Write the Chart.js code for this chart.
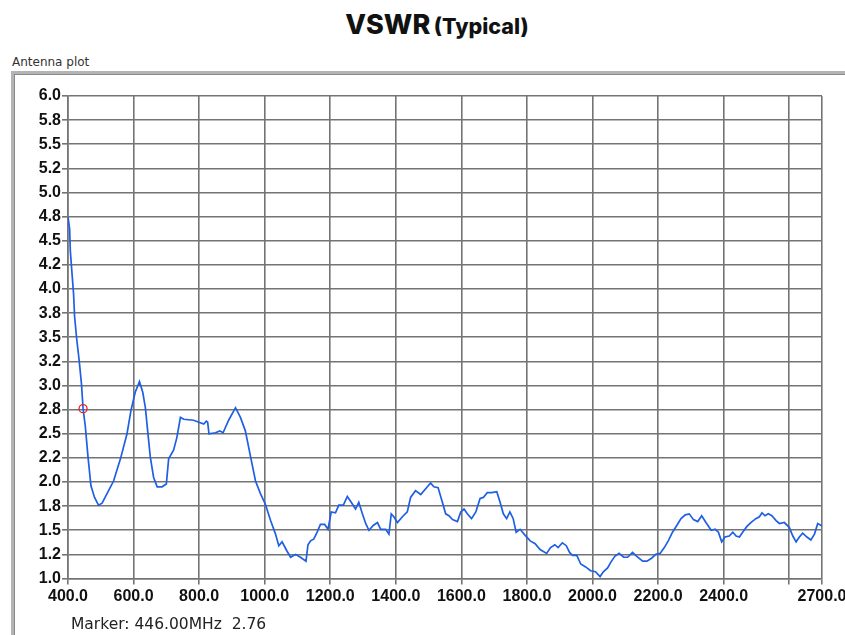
<!DOCTYPE html>
<html>
<head>
<meta charset="utf-8">
<title>VSWR (Typical)</title>
<script src="https://cdn.jsdelivr.net/npm/chart.js"></script>
<style>
  html, body { margin: 0; padding: 0; background: #fff; overflow: hidden; }
  body { width: 845px; height: 635px; position: relative; }
  #title { position: absolute; left: 0; width: 874px; top: 8px; text-align: center;
           font-family: Inter, "Open Sans", sans-serif; font-weight: 800; color: #111; }
  #title .big { font-size: 27px; }
  #title .small { font-size: 21.5px; }
  #caption { position: absolute; left: 12px; top: 55px; font: 12px "DejaVu Sans", sans-serif; color: #333; }
  #frame { position: absolute; left: 11px; top: 71px; width: 900px; height: 700px;
           border-left: 3px solid #b4b4b4; border-top: 3px solid #b4b4b4;
           box-shadow: inset 1px 1px 0 #8a8a8a; }
  #marker { position: absolute; left: 71px; top: 615px; font: 15.5px "DejaVu Sans", sans-serif; color: #222; white-space: pre; }
  #plot { position: absolute; left: 0; top: 0; }
</style>
</head>
<body>
<div id="title"><span class="big">VSWR</span> <span class="small">(Typical)</span></div>
<div id="caption">Antenna plot</div>
<div id="frame"></div>
<canvas id="plot" width="845" height="635"></canvas>
<div id="marker"></div>
<script>
// trace (MHz / VSWR)
const freqMHz = [
  400, 405, 407, 412, 417, 420, 426, 434, 441, 446, 453, 461, 470, 481, 493, 504, 519, 539, 560, 580,
  592, 605, 618, 628, 636, 643, 651, 661, 672, 687, 700, 707, 722, 732, 743, 753, 783, 814, 822, 826,
  830, 850, 863, 873, 890, 911, 926, 941, 957, 972, 987, 1002, 1018, 1033, 1043, 1053, 1067, 1079, 1094, 1109,
  1126, 1132, 1140, 1150, 1160, 1170, 1183, 1193, 1203, 1216, 1226, 1240, 1252, 1264, 1277, 1287, 1298, 1308, 1318, 1331,
  1344, 1354, 1369, 1379, 1386, 1394, 1405, 1420, 1435, 1445, 1460, 1476, 1491, 1506, 1516, 1529, 1542, 1552, 1562, 1573,
  1588, 1598, 1608, 1618, 1631, 1644, 1657, 1667, 1679, 1693, 1708, 1718, 1728, 1738, 1748, 1758, 1767, 1779, 1794, 1810,
  1825, 1840, 1860, 1872, 1885, 1895, 1908, 1920, 1930, 1939, 1952, 1964, 1979, 1994, 2009, 2023, 2033, 2046, 2056, 2068,
  2081, 2095, 2107, 2122, 2135, 2153, 2166, 2180, 2193, 2206, 2219, 2231, 2244, 2257, 2270, 2283, 2295, 2308, 2321, 2333,
  2346, 2362, 2374, 2384, 2394, 2404, 2417, 2428, 2438, 2448, 2458, 2471, 2483, 2498, 2509, 2517, 2526, 2536, 2547, 2560,
  2570, 2585, 2600, 2611, 2621, 2631, 2641, 2654, 2666, 2677, 2687, 2697, 2700
];
const vswr = [
  4.75, 4.62, 4.40, 4.17, 3.95, 3.72, 3.50, 3.26, 3.02, 2.76, 2.57, 2.26, 1.96, 1.84, 1.76, 1.78, 1.88, 2.01, 2.24, 2.50,
  2.74, 2.93, 3.04, 2.93, 2.77, 2.53, 2.26, 2.05, 1.95, 1.95, 1.98, 2.24, 2.33, 2.46, 2.67, 2.65, 2.64, 2.60, 2.63, 2.62,
  2.50, 2.51, 2.53, 2.51, 2.64, 2.77, 2.67, 2.53, 2.26, 2.01, 1.88, 1.77, 1.60, 1.46, 1.34, 1.38, 1.29, 1.22, 1.25, 1.22,
  1.18, 1.35, 1.39, 1.41, 1.48, 1.56, 1.56, 1.51, 1.69, 1.68, 1.76, 1.76, 1.85, 1.79, 1.72, 1.79, 1.67, 1.57, 1.50, 1.55,
  1.58, 1.51, 1.51, 1.46, 1.67, 1.64, 1.58, 1.64, 1.69, 1.84, 1.91, 1.87, 1.93, 1.99, 1.95, 1.94, 1.79, 1.67, 1.65, 1.61,
  1.59, 1.69, 1.72, 1.67, 1.62, 1.69, 1.83, 1.84, 1.89, 1.89, 1.90, 1.79, 1.67, 1.62, 1.69, 1.62, 1.48, 1.51, 1.45, 1.39,
  1.36, 1.30, 1.26, 1.32, 1.35, 1.32, 1.37, 1.34, 1.27, 1.24, 1.24, 1.15, 1.12, 1.08, 1.07, 1.02, 1.07, 1.11, 1.17, 1.23,
  1.26, 1.22, 1.22, 1.27, 1.23, 1.18, 1.18, 1.21, 1.25, 1.26, 1.32, 1.39, 1.48, 1.55, 1.62, 1.66, 1.67, 1.61, 1.59, 1.65,
  1.58, 1.50, 1.51, 1.48, 1.38, 1.43, 1.44, 1.48, 1.44, 1.43, 1.48, 1.54, 1.58, 1.62, 1.64, 1.68, 1.65, 1.67, 1.65, 1.60,
  1.57, 1.58, 1.53, 1.44, 1.38, 1.43, 1.47, 1.43, 1.40, 1.46, 1.57, 1.55, 1.55
];
const markerFreq = [446];
const markerVswr = [2.76];

const xTicks = [400, 600, 800, 1000, 1200, 1400, 1600, 1800, 2000, 2200, 2400, 2600, 2700];
const xTickLabels = ['400.0', '600.0', '800.0', '1000.0', '1200.0', '1400.0', '1600.0', '1800.0',
  '2000.0', '2200.0', '2400.0', '', '2700.0'];
const yTicks = [1.0, 1.25, 1.5, 1.75, 2.0, 2.25, 2.5, 2.75, 3.0, 3.25, 3.5, 3.75, 4.0,
  4.25, 4.5, 4.75, 5.0, 5.25, 5.5, 5.75, 6.0];
const yTickLabels = ['1.0', '1.2', '1.5', '1.8', '2.0', '2.2', '2.5', '2.8', '3.0', '3.2', '3.5', '3.8', '4.0',
  '4.2', '4.5', '4.8', '5.0', '5.2', '5.5', '5.8', '6.0'];

const gridColor = '#747474';
const tickFont = {family: '"Liberation Sans", Arial, sans-serif', size: 16, weight: 'bold'};

document.getElementById('marker').textContent =
  'Marker: ' + markerFreq[0].toFixed(2) + 'MHz  ' + markerVswr[0].toFixed(2);

new Chart(document.getElementById('plot').getContext('2d'), {
  type: 'line',
  data: {
    datasets: [
      {
        label: 'Marker',
        data: markerFreq.map((f, i) => ({x: f, y: markerVswr[i]})),
        showLine: false,
        pointRadius: 4,
        pointBorderWidth: 1.3,
        pointBorderColor: '#e3262b',
        pointBackgroundColor: 'rgba(0,0,0,0)'
      },
      {
        label: 'VSWR',
        data: freqMHz.map((f, i) => ({x: f, y: vswr[i]})),
        borderColor: '#1f5fe3',
        borderWidth: 1.7,
        pointRadius: 0,
        tension: 0
      }
    ]
  },
  options: {
    responsive: false,
    animation: false,
    devicePixelRatio: 1,
    layout: {padding: {left: 0, top: 96, right: 23, bottom: 26.5}},
    plugins: {legend: {display: false}, tooltip: {enabled: false}},
    scales: {
      x: {
        type: 'linear',
        min: 400,
        max: 2700,
        afterBuildTicks: s => { s.ticks = xTicks.map(v => ({value: v})); },
        afterFit: s => { s.height = 30; s.paddingLeft = 0; s.paddingRight = 0; },
        ticks: {
          autoSkip: false, maxRotation: 0, padding: 2,
          color: '#111', font: tickFont,
          callback: (v, i) => xTickLabels[i]
        },
        grid: {color: gridColor, lineWidth: 1.6, tickLength: 6},
        border: {color: gridColor, width: 1.6}
      },
      y: {
        min: 1,
        max: 6,
        afterBuildTicks: s => { s.ticks = yTicks.map(v => ({value: v})); },
        afterFit: s => { s.width = 68; s.paddingTop = 0; s.paddingBottom = 0; },
        ticks: {
          autoSkip: false, padding: 1,
          color: '#111', font: tickFont,
          callback: (v, i) => yTickLabels[i]
        },
        grid: {color: gridColor, lineWidth: 1.6, tickLength: 6},
        border: {color: gridColor, width: 1.6}
      }
    }
  }
});
</script>
</body>
</html>
